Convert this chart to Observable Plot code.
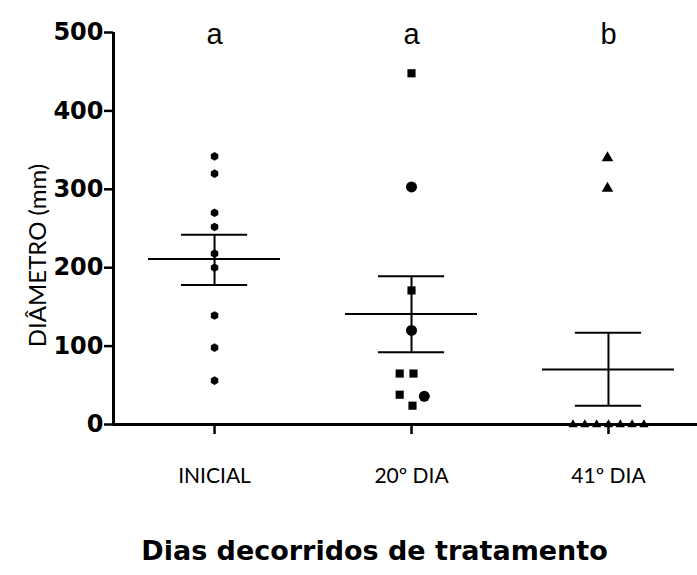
<!DOCTYPE html>
<html>
<head>
<meta charset="utf-8">
<script src="https://cdn.jsdelivr.net/npm/d3@7"></script>
<script src="https://cdn.jsdelivr.net/npm/@observablehq/plot@0.6"></script>
<style>
  html, body { margin: 0; padding: 0; background: #fff; }
  svg { display: block; }
</style>
</head>
<body>
<div id="chart"></div>
<script>
// Categories (x axis)
const categories = ["INICIAL", "20º DIA", "41º DIA"];
const sigLetters = ["a", "a", "b"];
const yTicks = [0, 100, 200, 300, 400, 500];

// Individual observations (diameter, mm), with horizontal jitter (category units) and symbol
const inicialValues = [342, 320, 270, 252, 218, 200, 139, 98, 56];
const inicialJitter = [0, 0, 0, 0, 0, 0, 0, 0, 0];

const dia20Values  = [448, 303, 171, 120, 65, 65, 38, 36, 24];
const dia20Jitter  = [0, 0, 0, 0, -0.06, 0.01, -0.06, 0.065, 0.005];
const dia20Symbols = ["square", "circle", "square", "circle", "square", "square", "square", "circle", "square"];

const dia41Values  = [340, 301, 0, 0, 0, 0, 0, 0, 0];
const dia41Jitter  = [-0.005, -0.005, -0.18, -0.12, -0.06, 0, 0.06, 0.12, 0.18];

// Mean and SEM
const means  = [211, 141, 70];
const semLow = [178, 92, 24];
const semHigh = [242, 189, 117];

const points = [
  ...inicialValues.map((v, i) => ({cat: 0, jit: inicialJitter[i], v, sym: "hex", r: 4.3})),
  ...dia20Values.map((v, i) => ({cat: 1, jit: dia20Jitter[i], v, sym: dia20Symbols[i], r: dia20Symbols[i] === "circle" ? 5.5 : 4.6})),
  ...dia41Values.map((v, i) => ({cat: 2, jit: dia41Jitter[i], v, sym: "triangle", r: v === 0 ? 3.4 : 4.3}))
].map(d => ({...d, x: d.cat + d.jit}));

const stats = categories.map((c, i) => ({i, c, mean: means[i], lo: semLow[i], hi: semHigh[i], letter: sigLetters[i]}));

const meanHalf = 0.335, capHalf = 0.168;
const xDomain = [-0.513, 2.452];

const hexSymbol = {
  draw(context, size) {
    const r = Math.sqrt(size / Math.PI);
    for (let k = 0; k < 6; k++) {
      const a = Math.PI / 6 + k * Math.PI / 3;
      const px = r * Math.cos(a), py = r * Math.sin(a);
      if (k === 0) context.moveTo(px, py); else context.lineTo(px, py);
    }
    context.closePath();
  }
};
const symFor = s => s === "hex" ? hexSymbol : s;

const chart = Plot.plot({
  width: 697,
  height: 575,
  marginLeft: 113,
  marginRight: 0,
  marginTop: 32,
  marginBottom: 151,
  x: {type: "linear", domain: xDomain},
  y: {domain: [0, 500]},
  r: {type: "identity"},
  style: {background: "#fff", color: "#000"},
  marks: [
    // axes
    Plot.axisY({
      ticks: yTicks, tickSize: 9, tickPadding: 1, label: null,
      fontSize: 24, fontWeight: "bold", fontFamily: "DejaVu Sans", strokeWidth: 2.5
    }),
    Plot.axisX({
      ticks: [0, 1, 2], tickFormat: i => categories[i], tickSize: 10, tickPadding: 34, label: null,
      fontSize: 21, fontFamily: "Lato", strokeWidth: 2.5
    }),
    Plot.ruleX([xDomain[0]], {y1: 0, y2: 500, strokeWidth: 3}),
    Plot.ruleY([0], {strokeWidth: 3}),
    // points
    Plot.dot(points, {
      x: "x", y: "v", symbol: d => symFor(d.sym), r: "r", fill: "#000", stroke: "none"
    }),
    // mean lines
    Plot.ruleY(stats, {y: "mean", x1: d => d.i - meanHalf, x2: d => d.i + meanHalf, strokeWidth: 2}),
    // SEM bars
    Plot.ruleX(stats, {x: "i", y1: "lo", y2: "hi", strokeWidth: 2}),
    Plot.ruleY(stats, {y: "lo", x1: d => d.i - capHalf, x2: d => d.i + capHalf, strokeWidth: 2}),
    Plot.ruleY(stats, {y: "hi", x1: d => d.i - capHalf, x2: d => d.i + capHalf, strokeWidth: 2}),
    // significance letters
    Plot.text(stats, {
      x: "i", text: "letter", frameAnchor: "top", dy: -9,
      fontSize: 29, fontFamily: "Liberation Sans"
    }),
    // axis titles
    Plot.text(["DIÂMETRO (mm)"], {
      frameAnchor: "left", textAnchor: "middle", dx: -75, dy: 27, rotate: -90, text: d => d,
      fontSize: 24, fontFamily: "Lato"
    }),
    Plot.text(["Dias decorridos de tratamento"], {
      frameAnchor: "bottom", x: [1], dx: -37, dy: 135, text: d => d,
      fontSize: 27, fontWeight: "bold", fontFamily: "DejaVu Sans"
    })
  ]
});
document.getElementById("chart").appendChild(chart);
</script>
</body>
</html>
